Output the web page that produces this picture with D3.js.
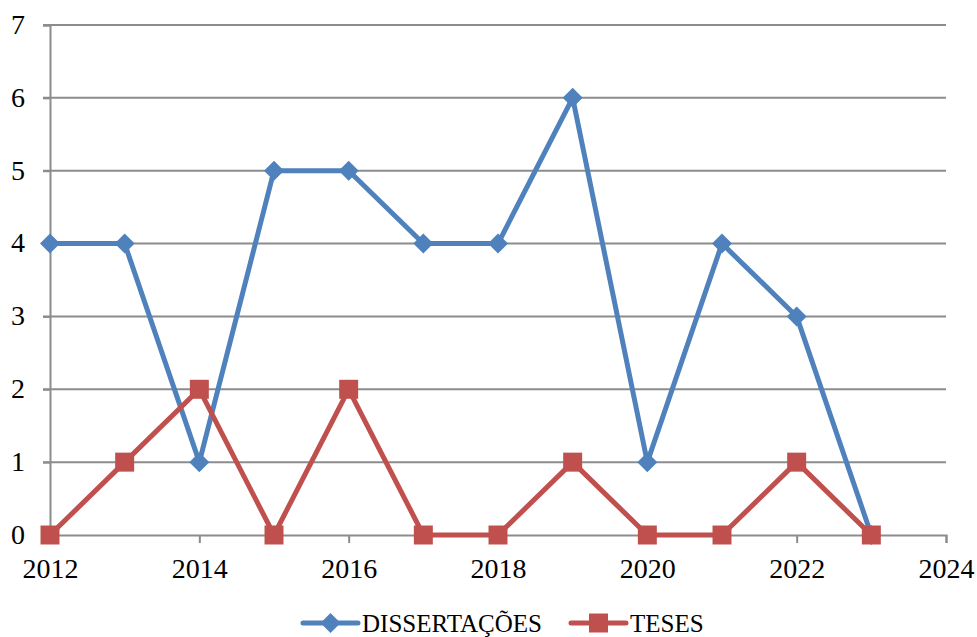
<!DOCTYPE html>
<html lang="pt">
<head>
    <title>Dissertações e Teses</title>
    <style>
        body, html { margin: 0; height: 100%; overflow: hidden; background: #fff; }
        svg { display: block; }
        text { font-family: "Liberation Serif", "DejaVu Serif", serif; fill: #000; }
    </style>
    <script src="https://d3js.org/d3.v7.min.js"></script>
</head>
<body>
    <svg></svg>

    <script>
        const years = [2012, 2013, 2014, 2015, 2016, 2017, 2018, 2019, 2020, 2021, 2022, 2023];
        const dissertacoes = [4, 4, 1, 5, 5, 4, 4, 6, 1, 4, 3, 0];
        const teses = [0, 1, 2, 0, 2, 0, 0, 1, 0, 0, 1, 0];
        const xTicks = [2012, 2014, 2016, 2018, 2020, 2022, 2024];
        const yTicks = [0, 1, 2, 3, 4, 5, 6, 7];

        const width = 977, height = 637;
        const margin = { top: 25, right: 31, bottom: 102, left: 50 };

        const svg = d3.select("svg")
            .attr("width", width)
            .attr("height", height);

        const x = d3.scaleLinear()
            .domain([2012, 2024])
            .range([margin.left, width - margin.right]);

        const y = d3.scaleLinear()
            .domain([0, 7])
            .range([height - margin.bottom, margin.top]);

        const gridColor = "#8c8c8c";

        // horizontal gridlines
        svg.append("g")
            .selectAll("line")
            .data(yTicks.filter(d => d > 0))
            .join("line")
            .attr("x1", margin.left - 7)
            .attr("x2", width - margin.right)
            .attr("y1", d => y(d))
            .attr("y2", d => y(d))
            .attr("stroke", gridColor)
            .attr("stroke-width", 2);

        // y axis
        const yAxis = svg.append("g")
            .attr("transform", `translate(${margin.left},0)`)
            .call(d3.axisLeft(y).tickValues(yTicks).tickSize(7).tickPadding(18).tickFormat(d3.format("d")));
        yAxis.select(".domain").attr("stroke", gridColor).attr("stroke-width", 2);
        yAxis.selectAll(".tick line").attr("stroke", gridColor).attr("stroke-width", 2);
        yAxis.selectAll("text").attr("font-size", 28).attr("font-family", "Liberation Serif").attr("dy", "0.3em");

        // x axis
        const xAxis = svg.append("g")
            .attr("transform", `translate(0,${y(0)})`)
            .call(d3.axisBottom(x).tickValues(xTicks).tickSize(8).tickSizeOuter(8).tickPadding(15).tickFormat(d3.format("d")));
        xAxis.select(".domain").attr("stroke", gridColor).attr("stroke-width", 2);
        xAxis.selectAll(".tick line").attr("stroke", gridColor).attr("stroke-width", 2);
        xAxis.selectAll("text").attr("font-size", 28).attr("font-family", "Liberation Serif");

        const line = d3.line()
            .x((d, i) => x(years[i]))
            .y(d => y(d));

        const blue = "#4f81bd", red = "#c0504d";
        const diamond = () => "M0,-10L10,0L0,10L-10,0Z";
        const square = d3.symbol().type(d3.symbolSquare).size(361);

        // dissertações
        svg.append("path")
            .datum(dissertacoes)
            .attr("d", line)
            .attr("fill", "none")
            .attr("stroke", blue)
            .attr("stroke-width", 5)
            .attr("stroke-linejoin", "round");
        svg.append("g")
            .selectAll("path")
            .data(dissertacoes)
            .join("path")
            .attr("d", diamond)
            .attr("transform", (d, i) => `translate(${x(years[i])},${y(d)})`)
            .attr("fill", blue);

        // teses
        svg.append("path")
            .datum(teses)
            .attr("d", line)
            .attr("fill", "none")
            .attr("stroke", red)
            .attr("stroke-width", 5)
            .attr("stroke-linejoin", "round");
        svg.append("g")
            .selectAll("path")
            .data(teses)
            .join("path")
            .attr("d", square)
            .attr("transform", (d, i) => `translate(${x(years[i])},${y(d)})`)
            .attr("fill", red);

        // legend
        const legend = [
            { name: "DISSERTAÇÕES", color: blue, sym: diamond, x: 303 },
            { name: "TESES", color: red, sym: square, x: 571 }
        ];
        const ly = 623;
        const lg = svg.append("g")
            .selectAll("g")
            .data(legend)
            .join("g")
            .attr("transform", d => `translate(${d.x},${ly})`);
        lg.append("line")
            .attr("x1", 0).attr("x2", 55)
            .attr("stroke", d => d.color)
            .attr("stroke-width", 5)
            .attr("stroke-linecap", "round");
        lg.append("path")
            .attr("d", d => d.sym())
            .attr("transform", "translate(27.5,0)")
            .attr("fill", d => d.color);
        lg.append("text")
            .attr("x", 59)
            .attr("y", 9)
            .attr("font-size", 25)
            .text(d => d.name);
    </script>
</body>
</html>
